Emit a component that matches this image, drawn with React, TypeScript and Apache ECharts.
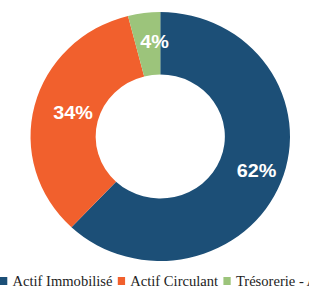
import React, { useEffect, useRef } from "react";
import * as echarts from "echarts";

const categories = ["Actif Immobilisé", "Actif Circulant", "Trésorerie - Actif"];
const values = [62, 34, 4];
const colors = ["#1c4f77", "#f1602d", "#9cc47b"];

// small label nudges (styling, in px) to match the reference placement
const labelNudgeX = [3, 9.6, 6.7];
const labelNudgeY = [-2, 0, 0];

export default function App() {
  const ref = useRef<HTMLDivElement>(null);
  useEffect(() => {
    document.body.style.margin = "0";
    const chart = echarts.init(ref.current!, null, { renderer: "svg" });
    chart.setOption({
      animation: false,
      color: colors,
      legend: {
        data: categories,
        left: 0,
        top: 274,
        padding: 0,
        orient: "horizontal",
        icon: "rect",
        itemWidth: 7,
        itemHeight: 8,
        itemGap: 5,
        textStyle: { fontFamily: "Liberation Serif", fontSize: 14, color: "#222" },
      },
      series: [
        {
          type: "pie",
          center: [153.8, 136.5],
          radius: [62, 124.5],
          startAngle: 90,
          clockwise: true,
          avoidLabelOverlap: false,
          emphasis: { disabled: true },
          label: {
            show: true,
            position: "inside",
            formatter: "{c}%",
            color: "#fff",
            fontFamily: "Liberation Sans",
            fontWeight: "bold",
            fontSize: 19,
          },
          labelLayout: (p: any) => ({ dx: labelNudgeX[p.dataIndex], dy: labelNudgeY[p.dataIndex] }),
          labelLine: { show: false },
          data: categories.map((name, i) => ({ name, value: values[i] })),
        },
      ],
    });
    return () => chart.dispose();
  }, []);
  return (
    <div style={{ width: 309, height: 289, overflow: "hidden", position: "relative" }}>
      <div
        ref={ref}
        style={{ width: 520, height: 289, transform: "scaleX(1.042)", transformOrigin: "0 0" }}
      />
    </div>
  );
}
